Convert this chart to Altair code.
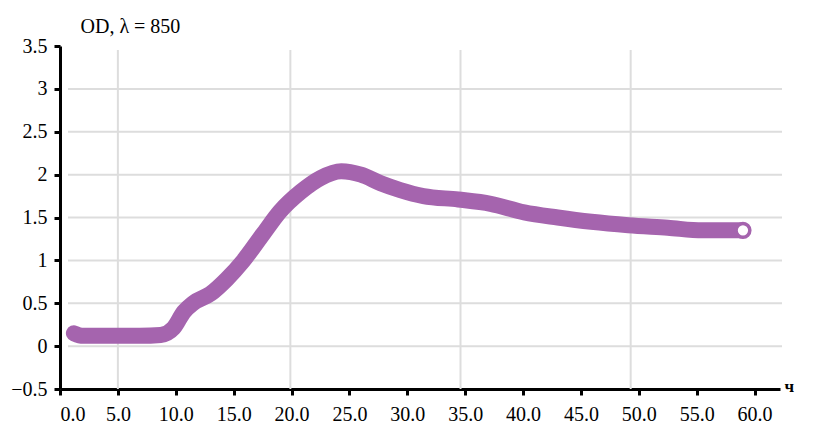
import altair as alt
import pandas as pd

# time, h
time_h = [1.2, 2.0, 4.0, 6.9, 8.7, 9.8, 10.7, 11.5, 13.0, 14.4, 15.8, 17.5, 19.0,
          20.8, 22.5, 24.3, 26.0, 27.7, 29.4, 31.4, 34.4, 37.2, 40.1, 43.0,
          45.9, 49.1, 52.5, 55.5, 59.0]
# optical density at 850 nm
od = [0.15, 0.12, 0.12, 0.12, 0.13, 0.21, 0.40, 0.50, 0.61, 0.78, 0.99, 1.30, 1.57,
      1.80, 1.96, 2.04, 2.00, 1.90, 1.82, 1.75, 1.71, 1.66, 1.56, 1.50,
      1.45, 1.41, 1.38, 1.35, 1.35]

x_ticks = [0, 5, 10, 15, 20, 25, 30, 35, 40, 45, 50, 55, 60]
y_ticks = [-0.5, 0, 0.5, 1, 1.5, 2, 2.5, 3, 3.5]
h_grid = [0, 0.5, 1, 1.5, 2, 2.5, 3]
v_grid = [5, 19.9, 34.6, 49.3]

df = pd.DataFrame({"t": time_h, "od": od})
end_df = df.tail(1)

FONT = "Liberation Serif"
PURPLE = "#A564AE"

xs = alt.Scale(domain=[0, 62.2], nice=False, zero=False)
ys = alt.Scale(domain=[-0.5, 3.5], nice=False, zero=False)

hgrid = alt.Chart(pd.DataFrame({"g": h_grid})).mark_rule(
    color="#dddddd", strokeWidth=2
).encode(y=alt.Y("g:Q", scale=ys), x=alt.value(8), x2=alt.value(722))

vgrid = alt.Chart(pd.DataFrame({"g": v_grid})).mark_rule(
    color="#dddddd", strokeWidth=2
).encode(x=alt.X("g:Q", scale=xs), y=alt.value(4), y2=alt.value(343))

line = alt.Chart(df).mark_line(
    color=PURPLE, strokeWidth=16, strokeCap="round", strokeJoin="round",
    interpolate="monotone"
).encode(
    x=alt.X("t:Q", scale=xs,
            axis=alt.Axis(values=x_ticks, format=".1f", title="ч", grid=False,
                          domainColor="black", domainWidth=3, tickColor="black",
                          tickWidth=3, tickSize=6, labelFont=FONT, labelFontSize=20,
                          labelColor="black", labelPadding=9, labelFlush=True,
                          titleFont=FONT, titleFontSize=17, titleFontWeight="bold",
                          titleColor="black", titleAngle=0, titleAlign="left",
                          titleBaseline="middle", titleX=724, titleY=-3)),
    y=alt.Y("od:Q", scale=ys,
            axis=alt.Axis(values=y_ticks, format="~g", title="OD, λ = 850",
                          grid=False, domainColor="black", domainWidth=3,
                          tickColor="black", tickWidth=3, tickSize=6,
                          labelFont=FONT, labelFontSize=20, labelColor="black",
                          labelPadding=7, labelFlush=False,
                          titleFont=FONT, titleFontSize=20, titleFontWeight="normal",
                          titleColor="black", titleAngle=0, titleAlign="left",
                          titleBaseline="alphabetic", titleX=20, titleY=-14)),
)

end_pt = alt.Chart(end_df).mark_point(
    filled=True, fill="white", stroke=PURPLE, strokeWidth=3.5, size=190, opacity=1
).encode(x=alt.X("t:Q", scale=xs), y=alt.Y("od:Q", scale=ys))

chart = (hgrid + vgrid + line + end_pt).properties(
    width=720, height=343,
    autosize=alt.AutoSizeParams(type="none"),
    padding={"left": 52, "top": 38, "right": 27, "bottom": 37},
).configure_view(stroke=None)

chart.save("out.html", embed_options={"renderer": "svg", "actions": False})
